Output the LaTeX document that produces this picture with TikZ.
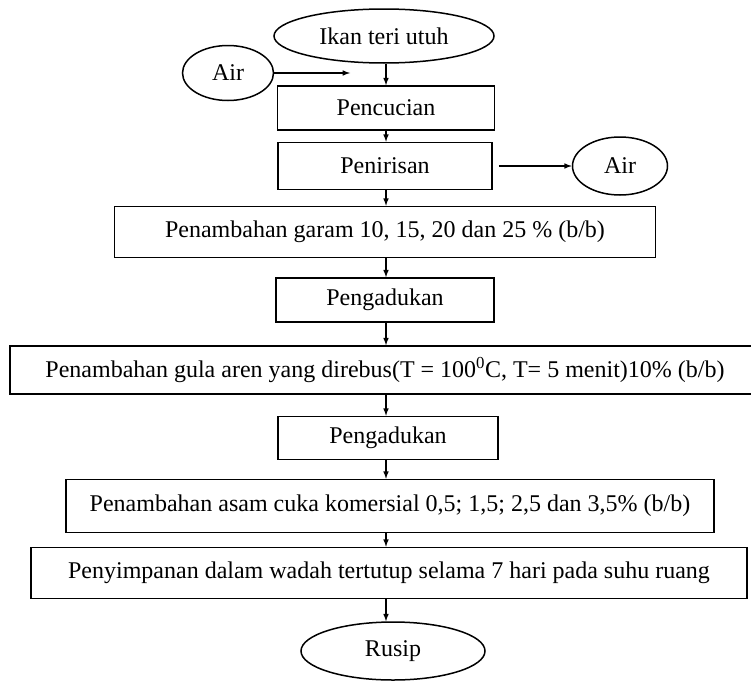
\documentclass[tikz,border=0pt]{standalone}
\usepackage{fontspec}
\setmainfont{Liberation Serif}
\usetikzlibrary{shapes.geometric}

\begin{document}
\begin{tikzpicture}[x=1pt, y=-1pt, main/.style = {draw, line width=1.5pt, inner sep=0pt, font=\fontsize{24}{28}\selectfont}, ends/.style = {main, ellipse}]
	\tikzset{edge/.style = {->,> = latex, line width=1.5pt}}
	\useasboundingbox (0,0) rectangle (751,680);
	
		\coordinate (axis) at (386,0);
		\node[ends, minimum width=220pt, minimum height=54pt] (1) at (384,36) {Ikan teri utuh};
		\node[ends, minimum width=91pt, minimum height=55pt] (2) at (228,73) {Air};
		\coordinate (2a) at (350,73);
		\node[main, minimum width=217pt, minimum height=44pt] (3) at (386,108) {Pencucian};
		\node[main, minimum width=214pt, minimum height=47pt] (4) at (385,166) {Penirisan};
		\node[ends, minimum width=95pt, minimum height=58pt] (5) at (620,166) {Air};
		\node[main, minimum width=541pt, minimum height=51pt] (6) at (385,232) {Penambahan garam 10, 15, 20 dan 25 \% (b/b)};
		\node[main, minimum width=218pt, minimum height=44pt] (7) at (385,300) {Pengadukan};
		\node[main, minimum width=750pt, minimum height=48pt] (8) at (385,370) {Penambahan gula aren yang direbus(T = 100\textsuperscript{0}C, T= 5 menit)10\% (b/b)};
		\node[main, minimum width=220pt, minimum height=43pt] (9) at (388,438) {Pengadukan};
		\node[main, minimum width=648pt, minimum height=53pt] (10) at (390,506) {Penambahan asam cuka komersial 0,5; 1,5; 2,5 dan 3,5\% (b/b)};
		\node[main, minimum width=716pt, minimum height=51pt] (11) at (389,573) {Penyimpanan dalam wadah tertutup selama 7 hari pada suhu ruang};
		\node[ends, minimum width=184pt, minimum height=58pt] (12) at (393,651) {Rusip};
		
		\draw[edge] (2) -- (2a);
		\draw[edge, shorten <=6pt] (4) -- (5);
		\foreach \a/\b in {1/3, 3/4, 4/6, 6/7, 7/8, 8/9, 9/10, 10/11, 11/12}
			\draw[edge] (axis |- \a.south) -- (axis |- \b.north);
	\end{tikzpicture}
\end{document}
